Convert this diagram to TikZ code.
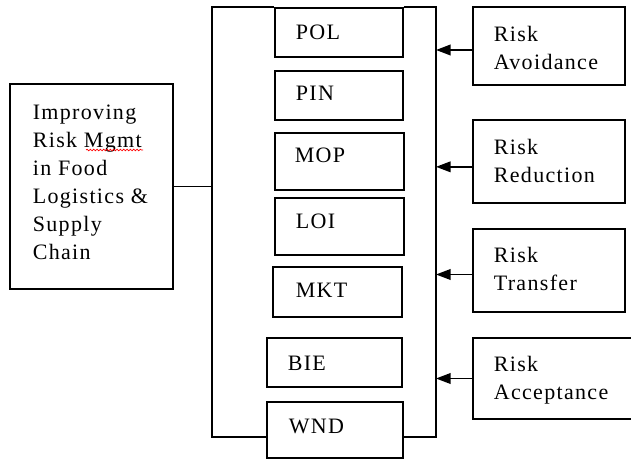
\documentclass[tikz,border=0pt]{standalone}
\usepackage{fontspec}
\setmainfont{Liberation Serif}[LetterSpace=6]
\usetikzlibrary{arrows.meta,fit,decorations.pathmorphing}

\begin{document}
\begin{tikzpicture}[x=0.75pt,y=-0.75pt,line width=1.3pt,
  box/.style={draw,inner sep=0pt},
  txt/.style={inner sep=0pt,align=left,anchor=north west,
    font=\fontsize{16.5}{21}\selectfont},
  lbl/.style={inner sep=0pt,anchor=base west,
    font=\fontsize{16.5}{21}\selectfont},
  arr/.style={-{Triangle[length=11pt,width=8pt]}}]
\useasboundingbox (0,0) rectangle (631,459);

% main goal
\node[box,fit={(10,84) (173,289)}] (goal) {};
\node[txt] (goaltxt) at (32,104) {Improving\\Risk Mgmt\\in Food\\Logistics \&\\Supply\\Chain};
\draw[red,line width=0.5pt,decorate,decoration={snake,amplitude=0.6pt,segment length=2.5pt}]
  (86,150) -- (143,150);

% factor boxes
\node[box,fit={(275,8) (403,57)}] (pol) {};
\node[box,fit={(275,71) (403,120)}] (pin) {};
\node[box,fit={(275,133) (404,190)}] (mop) {};
\node[box,fit={(275,198) (404,255)}] (loi) {};
\node[box,fit={(273,267) (402,317)}] (mkt) {};
\node[box,fit={(267,338) (402,387)}] (bie) {};
\node[box,fit={(267,402) (403,458)}] (wnd) {};

\node[lbl] (poltxt) at (295,40) {POL};
\node[lbl] (pintxt) at (295,101) {PIN};
\node[lbl] (moptxt) at (294,163) {MOP};
\node[lbl] (loitxt) at (295,229) {LOI};
\node[lbl] (mkttxt) at (295,297) {MKT};
\node[lbl] (bietxt) at (287,370) {BIE};
\node[lbl] (wndtxt) at (288,433) {WND};

% strategy boxes
\node[box,fit={(473,7) (625,85)}] (avoid) {};
\node[box,fit={(473,120) (625,203)}] (reduce) {};
\node[box,fit={(473,229) (625,312)}] (transfer) {};
\node[box,fit={(473,338) (632,419)}] (accept) {};

\node[txt] (avoidtxt) at (493,25) {Risk\\Avoidance};
\node[txt] (reducetxt) at (493,138) {Risk\\Reduction};
\node[txt] (transfertxt) at (493,246) {Risk\\Transfer};
\node[txt] (accepttxt) at (493,355) {Risk\\Acceptance};

% bracket frame
\coordinate (tl) at (212,7);
\coordinate (bl) at (212,437);
\coordinate (tr) at (436,7);
\coordinate (br) at (436,437);
\draw (pol.north west |- tl) -- (tl) -- (bl) -- (wnd.west |- bl);
\draw (pol.north east |- tr) -- (tr) -- (br) -- (wnd.east |- br);

% links
\draw (goal.east) -- (goal.east -| bl);
\draw[arr] ([yshift=-3pt]avoid.west) -- ([yshift=-3pt]avoid.west -| tr);
\draw[arr] ([yshift=-4pt]reduce.west) -- ([yshift=-4pt]reduce.west -| tr);
\draw[arr] ([yshift=-3pt]transfer.west) -- ([yshift=-3pt]transfer.west -| tr);
\draw[arr] (accept.west) -- (accept.west -| tr);
\end{tikzpicture}
\end{document}
